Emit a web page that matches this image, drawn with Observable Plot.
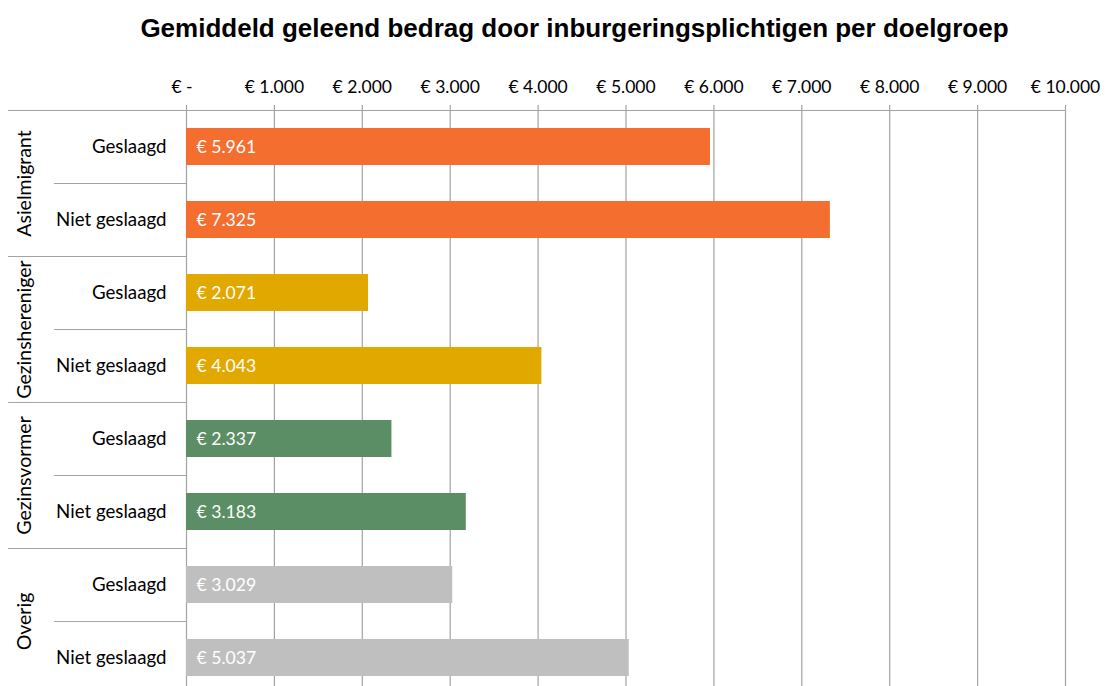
<!DOCTYPE html>
<html>
<head>
<meta charset="utf-8">
<script src="https://cdn.jsdelivr.net/npm/d3@7"></script>
<script src="https://cdn.jsdelivr.net/npm/@observablehq/plot@0.6"></script>
<style>
  body { margin: 0; background: #fff; }
  #title { height: 50px; box-sizing: border-box; padding-top: 13px; padding-left: 44px; text-align: center;
    font: bold 26px "Liberation Sans", Arial, sans-serif; color: #000; line-height: 30px; white-space: nowrap; }
</style>
</head>
<body>
<div id="title">Gemiddeld geleend bedrag door inburgeringsplichtigen per doelgroep</div>
<div id="chart"></div>
<script>
const groups = ["Asielmigrant", "Gezinshereniger", "Gezinsvormer", "Overig"];
const statuses = ["Geslaagd", "Niet geslaagd"];
const geslaagd = [5961, 2071, 2337, 3029];
const nietGeslaagd = [7325, 4043, 3183, 5037];
const groupColors = ["#F46E30", "#E1A800", "#5B8E64", "#BFBFBF"];
const xTicks = [0, 1000, 2000, 3000, 4000, 5000, 6000, 7000, 8000, 9000, 10000];

const data = [];
groups.forEach((g, i) => {
  data.push({group: g, status: statuses[0], key: g + "|" + statuses[0], value: geslaagd[i]});
  data.push({group: g, status: statuses[1], key: g + "|" + statuses[1], value: nietGeslaagd[i]});
});
const keys = data.map(d => d.key);
const gridColor = "#a3a3a3";
const font = "Lato, 'Open Sans', sans-serif";
const nl = d3.formatLocale({decimal: ",", thousands: ".", grouping: [3], currency: ["€ ", ""]});
const fmt = nl.format(",.0f");
const euro = v => v === 0 ? "€ -\u00a0\u00a0" : "€ " + fmt(v);

function separators(index, scales) {
  const x = scales.x, y = scales.y;
  const step = y(keys[1]) - y(keys[0]);
  const half = step * 0.25;
  const g = d3.create("svg:g").attr("stroke", gridColor).attr("stroke-width", 1.2).attr("fill", "none");
  keys.forEach((k, i) => {
    const yy = Math.round(y(k) - half) + 0.5;
    const left = i % 2 === 0 ? 8 : 54;
    g.append("line").attr("x1", left).attr("x2", i === 0 ? x(xTicks[xTicks.length - 1]) : x(0))
      .attr("y1", yy).attr("y2", yy);
  });
  return g.node();
}

const chart = Plot.plot({
  width: 1105,
  height: 654,
  marginTop: 60,
  marginBottom: 10,
  marginLeft: 186,
  marginRight: 40,
  style: {fontFamily: font, fontSize: "17.5px", color: "#000", background: "#fff"},
  x: {domain: [0, 10000], axis: null},
  y: {type: "band", domain: keys, paddingInner: 0.5, paddingOuter: 0.25, axis: null},
  color: {domain: groups, range: groupColors},
  marks: [
    Plot.ruleX(xTicks, {x: d => d, stroke: gridColor, strokeWidth: 1.2}),
    Plot.axisX(xTicks, {anchor: "top", tickSize: 6, tickPadding: 12, tickFormat: euro, stroke: gridColor, strokeWidth: 1.2, fontSize: 17.5, fill: "#000", label: null}),
    separators,
    Plot.barX(data, {x: "value", y: "key", fill: "group"}),
    Plot.text(data, {x: 0, y: "key", text: d => euro(d.value), dx: 10, textAnchor: "start", fill: "white", fontSize: 17.6}),
    Plot.text(data, {x: 0, y: "key", text: "status", dx: -20, textAnchor: "end", fill: "#000", fontSize: 18.7}),
    Plot.text(data.filter(d => d.status === statuses[0]), {x: 0, y: "key", text: "group", dx: -162, dy: 36.5, rotate: -90, textAnchor: "middle", fill: "#000", fontSize: 19.5})
  ]
});
document.getElementById("chart").append(chart);
</script>
</body>
</html>
